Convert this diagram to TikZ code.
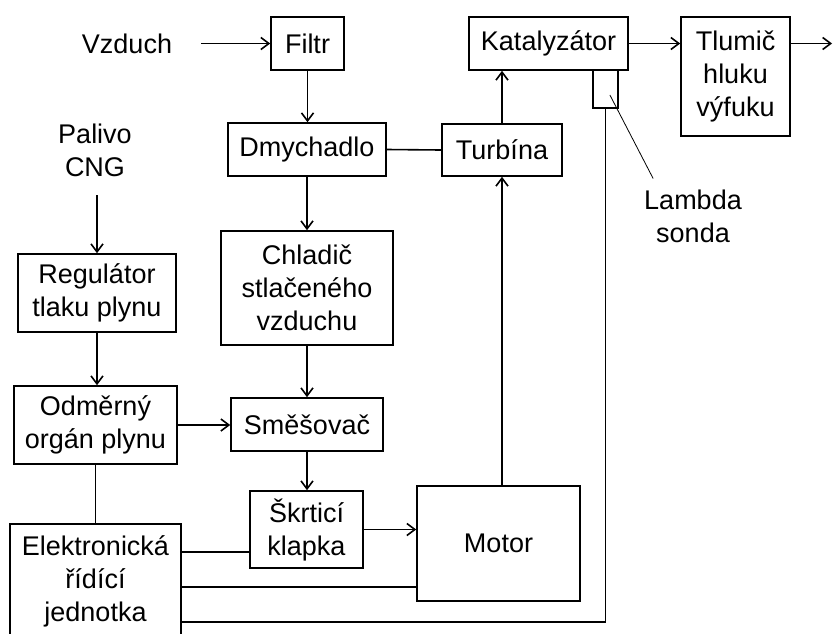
\documentclass[tikz,border=0pt]{standalone}
\usepackage{fontspec}
\setmainfont{Liberation Sans}
\usetikzlibrary{positioning, arrows.meta, calc}

\begin{document}
\begin{tikzpicture}[
    x=0.5pt, y=-0.5pt,
    >={Straight Barb[length=4pt, width=6pt]},
    every node/.style={font=\fontsize{13.5}{16.5}\selectfont},
    blockbox/.style={draw, rectangle, line width=0.8pt, align=center, inner sep=0pt},
    txt/.style={align=center},
    flowarrow/.style={->, line width=0.8pt, black},
    wire/.style={line width=0.8pt, black},
    leader/.style={thin, black}
]
\useasboundingbox (0,0) rectangle (834,633);

% ==========================================
% Air path
% ==========================================
\node[txt] (vzduch) at (127, 43.5) {Vzduch};
\node[blockbox, minimum width=36.5pt, minimum height=26.5pt] (filtr) at (307.5, 43.5) {Filtr};
\node[blockbox, minimum width=79pt, minimum height=26.5pt] (dmych) at (307, 149.5) {Dmychadlo};
\node[blockbox, minimum width=86pt, minimum height=57pt] (chladic) at (307, 288) {Chladič\\stlačeného\\vzduchu};
\node[blockbox, minimum width=76pt, minimum height=26.5pt] (smes) at (307, 424.5) {Směšovač};
\node[blockbox, minimum width=56.5pt, minimum height=38.5pt] (skrt) at (306.5, 529.5) {Škrticí\\klapka};

\draw[flowarrow, shorten <=11pt] (vzduch.east) -- (filtr.west);
\draw[flowarrow] (filtr.south) -- (filtr.south |- dmych.north);
\draw[flowarrow] (dmych.south) -- (dmych.south |- chladic.north);
\draw[flowarrow] (chladic.south) -- (chladic.south |- smes.north);
\draw[flowarrow] (smes.south) -- (smes.south |- skrt.north);

% ==========================================
% Engine and exhaust
% ==========================================
\node[blockbox, minimum width=81.5pt, minimum height=57.5pt] (motor) at (498.5, 543.5) {Motor};
\node[blockbox, minimum width=60pt, minimum height=26pt] (turb) at (502, 150) {Turbína};
\node[blockbox, minimum width=79.5pt, minimum height=26.5pt] (kat) at (548.5, 43.5) {Katalyzátor};
\node[blockbox, minimum width=54.5pt, minimum height=59.5pt] (tlum) at (735.5, 76.5) {Tlumič\\hluku\\výfuku};
\node[blockbox, minimum width=12.5pt, minimum height=19pt] (lambda) at (605.5, 89) {};
\node[txt] (sonda) at (693, 216) {Lambda\\sonda};
\coordinate (vystup) at (832, 43.5);

\draw[flowarrow] (skrt.east) -- (skrt.east -| motor.west);
\draw[flowarrow] (motor.north -| turb.south) -- (turb.south);
\draw[flowarrow] (turb.north) -- (turb.north |- kat.south);
\draw[flowarrow] (kat.east) -- (kat.east -| tlum.west);
\draw[flowarrow] (tlum.east |- vystup) -- (vystup);
\draw[wire] (dmych.east) -- (turb.west);
\draw[leader] ([shift={(2.2pt,-3pt)}]lambda.center) -- ([shift={(8pt,2pt)}]sonda.north west);

% ==========================================
% Fuel path and control unit
% ==========================================
\node[txt] (palivo) at (95, 150) {Palivo\\CNG};
\node[blockbox, minimum width=79pt, minimum height=39pt] (reg) at (97, 293) {Regulátor\\tlaku plynu};
\node[blockbox, minimum width=81.5pt, minimum height=39pt] (odm) at (95.5, 425) {Odměrný\\orgán plynu};
\node[blockbox, minimum width=85.5pt, minimum height=57pt] (ecu) at (95.5, 581) {Elektronická\\řídící\\jednotka};

\draw[flowarrow, shorten <=6pt] (palivo.south -| reg.north) -- (reg.north);
\draw[flowarrow] (reg.south) -- (reg.south |- odm.north);
\draw[flowarrow] (odm.east) -- (odm.east -| smes.west);
\draw[wire] (odm.south) -- (odm.south |- ecu.north);
\draw[wire] ([yshift=-11.25pt]skrt.west) -- ([yshift=-11.25pt]skrt.west -| ecu.east);
\draw[wire] ([yshift=-21.75pt]motor.west) -- ([yshift=-21.75pt]motor.west -| ecu.east);
\draw[wire] ([yshift=-20.5pt]ecu.east) -| (lambda.south);

\end{tikzpicture}
\end{document}
